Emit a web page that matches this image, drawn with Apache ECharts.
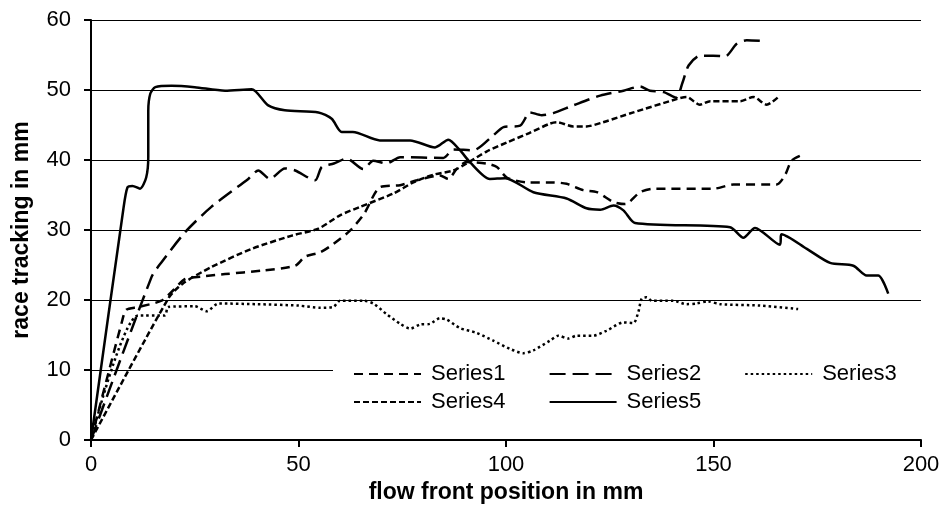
<!DOCTYPE html>
<html>
<head>
<meta charset="utf-8">
<script src="https://cdn.jsdelivr.net/npm/echarts@6/dist/echarts.min.js"></script>
<style>html,body{margin:0;padding:0;background:#fff;}#c{width:943px;height:514px;}</style>
</head>
<body>
<div id="c"></div>
<script>
const seriesNames = ['Series1', 'Series2', 'Series3', 'Series4', 'Series5'];
const xTicks = [0, 50, 100, 150, 200];
const yTicks = [0, 10, 20, 30, 40, 50, 60];

const series1X = [0, 7.5, 8.5, 11.4, 17, 20, 22.7, 27.5, 32.3, 41.1, 49.2, 51.6, 55.2, 58.4, 62.4, 65.8, 69.6, 74.5, 78.5, 84.1, 86.1, 88.1, 90.5, 95.3, 97.8, 100.2, 105, 111.4, 114.6, 118.6, 121.9, 125.9, 128.7, 132.3, 135.5, 150, 154.8, 165.2, 167.2, 168.8, 170.8];
const series1Y = [0, 17, 18.6, 19, 19.9, 21.5, 23, 23.4, 23.7, 24.2, 24.9, 26.2, 26.8, 28, 29.9, 32.3, 36.1, 36.4, 37.1, 37.8, 37.3, 38.7, 39.7, 39.5, 39, 37.5, 36.8, 36.8, 36.6, 35.7, 35.4, 34, 33.7, 35.4, 35.9, 35.9, 36.5, 36.5, 37.8, 39.9, 40.6];

const series2X = [0, 14.6, 17, 22.7, 29, 37.9, 40.3, 43.1, 46.7, 49.2, 54, 55.6, 58.5, 61.6, 65.6, 68, 71.2, 74.5, 84.9, 87.3, 92.1, 96.9, 99.4, 103.4, 105.8, 108.6, 111.4, 116.2, 122.7, 128.3, 132.3, 134.7, 138, 141, 142.5, 144, 146.7, 149.9, 152.8, 155.6, 158, 162];
const series2Y = [0, 23.3, 25.4, 29.7, 33.3, 37.3, 38.5, 37.3, 38.8, 38.5, 37.1, 39, 39.5, 40.2, 38.7, 39.9, 39.5, 40.4, 40.3, 41.5, 41.4, 43.5, 44.7, 44.9, 46.8, 46.4, 46.7, 47.8, 49.2, 49.9, 50.5, 49.9, 49.7, 48.9, 51, 53.5, 54.9, 54.9, 54.8, 56.6, 57.1, 57];

const series3X = [0, 11.4, 17.8, 18.6, 25, 27.9, 30.7, 40, 50, 55.2, 58.4, 60, 65.6, 68, 71.2, 74.5, 76.9, 79.3, 81.7, 84.1, 85.7, 88.9, 92.9, 96.9, 101, 104.2, 106.6, 110.6, 112.6, 115, 117, 121, 124.2, 128.3, 130.7, 131.9, 132.7, 133.9, 135.1, 140.3, 143.5, 145.9, 148.7, 151.6, 161.2, 170.4];
const series3Y = [0, 17.8, 17.8, 19, 19.1, 18.4, 19.5, 19.4, 19.2, 18.9, 19, 19.9, 19.9, 19.5, 18, 16.6, 15.9, 16.5, 16.6, 17.4, 17.2, 16, 15.3, 14.2, 13, 12.4, 12.8, 14.2, 14.9, 14.5, 14.9, 14.9, 15.6, 16.8, 16.7, 18.3, 20.2, 20.4, 19.9, 19.9, 19.4, 19.5, 19.8, 19.4, 19.2, 18.7];

const series4X = [0, 18.6, 22, 29, 38.7, 48.4, 54.8, 60, 64.8, 72.8, 77.7, 82.5, 87.3, 90.5, 95.3, 100.2, 105, 110.6, 112.2, 116.2, 119.4, 123.4, 130.7, 141.1, 143.5, 146.7, 149.2, 156.4, 159.6, 162.8, 166];
const series4Y = [0, 20.2, 22.3, 24.7, 27.3, 29.2, 30.2, 32.1, 33.3, 35.2, 36.8, 37.9, 38.5, 39.5, 41.2, 42.5, 43.7, 45.2, 45.4, 44.8, 44.8, 45.4, 46.8, 48.7, 49, 47.9, 48.4, 48.4, 49, 47.9, 49.2];

const series5X = [0, 7.8, 8.8, 10, 11.8, 13.3, 13.8, 13.8, 14.3, 15.5, 19.4, 25, 32.3, 38.7, 42.7, 46.7, 54.8, 58, 60.4, 63.1, 69.6, 76.9, 82.9, 86.1, 88.9, 91.3, 96.1, 99.8, 106.6, 114.6, 119.4, 122.7, 125.9, 128.3, 131.1, 154, 157.2, 160, 166, 166.4, 172.5, 178.1, 183.7, 186.9, 189.7, 192.1];
const series5Y = [0, 33, 36.1, 36.3, 35.9, 37.5, 40.5, 47, 49.5, 50.4, 50.6, 50.4, 49.9, 50.1, 47.8, 47.1, 46.8, 45.9, 44, 44, 42.8, 42.8, 41.8, 42.9, 41.4, 39.7, 37.3, 37.4, 35.4, 34.5, 33.1, 32.9, 33.5, 32.8, 31, 30.4, 28.9, 30.3, 27.9, 29.4, 27.3, 25.3, 24.9, 23.5, 23.5, 20.9];

const allX = [series1X, series2X, series3X, series4X, series5X];
const allY = [series1Y, series2Y, series3Y, series4Y, series5Y];
const dashes = [[9, 6], [16, 7], [2.5, 3], [6, 3], 'solid'];

const FONT = '"Liberation Sans", Arial, sans-serif';

const chart = echarts.init(document.getElementById('c'), null, {renderer: 'canvas'});

const series = seriesNames.map((name, i) => ({
  name: name,
  type: 'line',
  data: allX[i].map((x, k) => [x, allY[i][k]]),
  symbol: 'none',
  smooth: 0.25,
  lineStyle: {color: '#000', width: 2.5, type: dashes[i], cap: 'butt'},
  itemStyle: {color: '#000'},
  z: 3
}));

const legendCommon = {
  orient: 'horizontal',
  left: 333,
  width: 640,
  itemWidth: 67,
  itemHeight: 14,
  itemGap: 43,
  itemStyle: {opacity: 0},
  backgroundColor: '#fff',
  textStyle: {fontFamily: FONT, fontSize: 22, color: '#000', padding: [0, 0, 0, 5]},
  z: 10
};

chart.setOption({
  animation: false,
  backgroundColor: '#fff',
  grid: {left: 91, right: 22, top: 20, bottom: 74, containLabel: false},
  legend: [
    Object.assign({}, legendCommon, {data: seriesNames.slice(0, 3), top: 359, padding: [4, 35, 4, 20]}),
    Object.assign({}, legendCommon, {data: seriesNames.slice(3), top: 387, padding: [4, 20, 10, 20]})
  ],
  xAxis: {
    type: 'value',
    min: xTicks[0], max: xTicks[xTicks.length - 1], interval: 50,
    name: 'flow front position in mm',
    nameLocation: 'middle',
    nameGap: 40,
    nameTextStyle: {fontFamily: FONT, fontSize: 23, fontWeight: 'bold', color: '#000'},
    axisLine: {show: true, onZero: false, lineStyle: {color: '#000', width: 2}},
    axisTick: {show: true, inside: false, length: 7, lineStyle: {color: '#000', width: 2}},
    axisLabel: {fontFamily: FONT, fontSize: 22, color: '#000', margin: 14},
    splitLine: {show: false}
  },
  yAxis: {
    type: 'value',
    min: yTicks[0], max: yTicks[yTicks.length - 1], interval: 10,
    name: 'race tracking in mm',
    nameLocation: 'middle',
    nameGap: 58,
    nameTextStyle: {fontFamily: FONT, fontSize: 23, fontWeight: 'bold', color: '#000'},
    axisLine: {show: true, lineStyle: {color: '#000', width: 2}},
    axisTick: {show: true, inside: false, length: 7, lineStyle: {color: '#000', width: 2}},
    axisLabel: {fontFamily: FONT, fontSize: 22, color: '#000', margin: 20},
    splitLine: {show: true, lineStyle: {color: '#000', width: 1.2}}
  },
  series: series
});
</script>
</body>
</html>
